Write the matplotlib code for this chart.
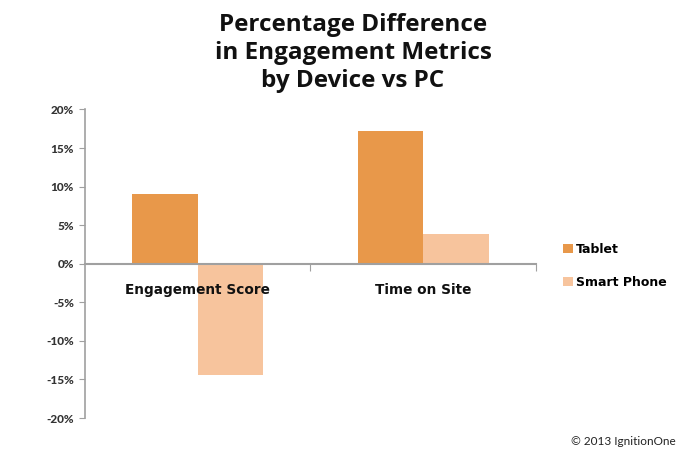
import numpy as np
import matplotlib.pyplot as plt
from matplotlib.patches import Patch

# data
categories = ["Engagement Score", "Time on Site"]
series_names = ["Tablet", "Smart Phone"]
tablet = [9.1, 17.2]
smart_phone = [-14.4, 3.8]
yticks = [-20, -15, -10, -5, 0, 5, 10, 15, 20]

colors = ["#E8984A", "#F7C49D"]
axis_gray = "#A0A0A0"
font = "Lato"
heavy = "DejaVu Sans"

fig = plt.figure(figsize=(6.87, 4.58), dpi=100)
ax = fig.add_axes([0.1237, 0.0873, 0.780 - 0.1237, 0.761 - 0.0873])

x = np.arange(len(categories))
w = 0.29
ax.bar(x - w / 2, tablet, w, color=colors[0], label=series_names[0])
ax.bar(x + w / 2, smart_phone, w, color=colors[1], label=series_names[1])

ax.set_xlim(-0.5, len(categories) - 0.5)
ax.set_ylim(-20, 20)

# spines: left axis plus a horizontal axis through zero
for s in ["top", "right"]:
    ax.spines[s].set_visible(False)
ax.spines["left"].set_color(axis_gray)
ax.spines["left"].set_linewidth(1.2)
ax.spines["bottom"].set_position(("data", 0))
ax.spines["bottom"].set_color(axis_gray)
ax.spines["bottom"].set_linewidth(1.5)

ax.set_yticks(yticks)
ax.set_yticklabels([f"{v}%" for v in yticks], fontname=font,
                   fontweight="black", fontsize=8.5, color="#333333")
ax.tick_params(axis="y", length=4, color=axis_gray, pad=4)

# boundary ticks between categories, labels as minor ticks
ax.set_xticks([0.5, 1.5])
ax.set_xticklabels(["", ""])
ax.tick_params(axis="x", which="major", length=5, color=axis_gray)
ax.set_xticks(x, minor=True)
ax.set_xticklabels(categories, minor=True, fontname=heavy,
                   fontweight="bold", fontsize=9.8, color="#111111")
ax.tick_params(axis="x", which="minor", length=0, pad=14)

fig.text(0.514, 0.972, "Percentage Difference\nin Engagement Metrics\nby Device vs PC",
         ha="center", va="top", fontname="Open Sans", fontweight="bold",
         fontsize=17.5, linespacing=1.22, color="#111111")

handles = [Patch(facecolor=c, edgecolor="none") for c in colors]
leg = fig.legend(handles, series_names, loc="center left",
                 bbox_to_anchor=(0.803, 0.42), frameon=False,
                 handlelength=0.8, handleheight=0.8, handletextpad=0.25,
                 labelspacing=1.6, prop={"family": heavy, "weight": "bold", "size": 9})

fig.text(0.983, 0.035, "\u00a9 2013 IgnitionOne", ha="right", va="center",
         fontname=font, fontsize=8.5, color="#222222")

fig.savefig("out.png", dpi=100)
